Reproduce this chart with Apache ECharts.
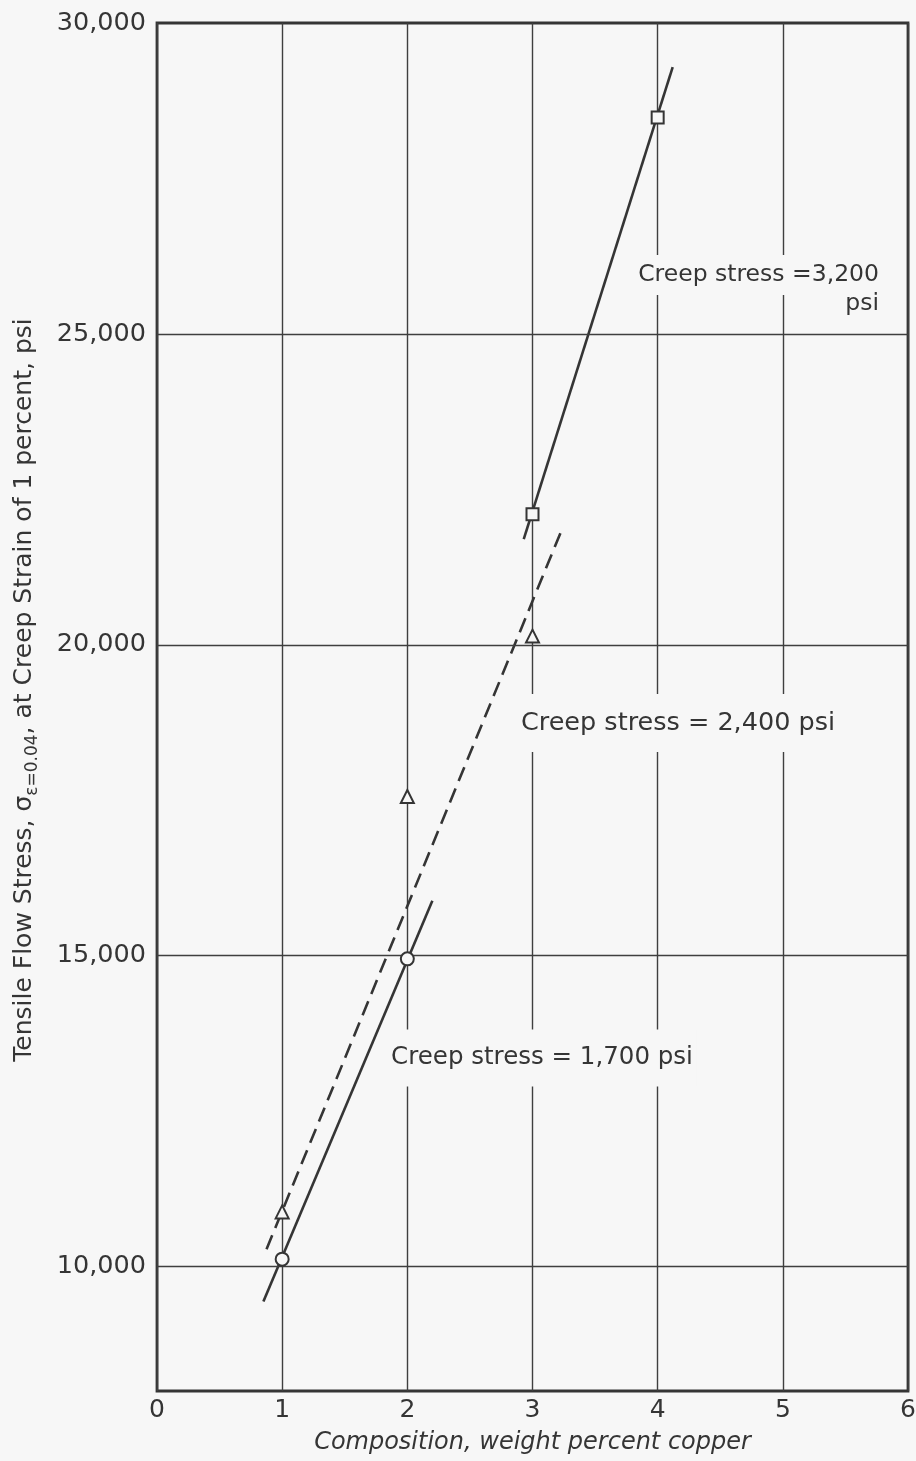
<!DOCTYPE html>
<html>
<head>
<meta charset="utf-8">
<script src="https://cdn.jsdelivr.net/npm/echarts@6/dist/echarts.min.js"></script>
<style>
  html, body { margin: 0; padding: 0; background: #f7f7f7; }
  #chart { width: 916px; height: 1461px; }
</style>
</head>
<body>
<div id="chart"></div>
<script>
// Tensile flow stress at 1 percent creep strain vs copper content
const copperTicks = [0, 1, 2, 3, 4, 5, 6];
const stressGrid = [10000, 15000, 20000, 25000];

// measured points: [wt % Cu, stress psi]
const pts1700 = [[1, 10120], [2, 14950]];
const pts2400 = [[1, 10880], [2, 17560], [3, 20140]];
const pts3200 = [[3, 22100], [4, 28480]];

// faired lines through each creep-stress set
const fit1700 = [[0.85, 9440], [2.20, 15885]];
const fit2400 = [[0.875, 10280], [3.24, 21880]];
const fit3200 = [[2.93, 21700], [4.12, 29290]];

const BG = '#f7f7f7';
const INK = '#353535';
const FONT = '"DejaVu Sans", sans-serif';

const chart = echarts.init(document.getElementById('chart'), null, { renderer: 'canvas' });

function fitLine(data, dashed) {
  return {
    type: 'line', data: data, symbol: 'none', silent: true, z: 3,
    lineStyle: { color: INK, width: 2.6, type: dashed ? [15, 8] : 'solid' }
  };
}
function markers(data, symbol, size) {
  return {
    type: 'scatter', data: data, symbol: symbol, symbolSize: size, z: 5, silent: true,
    itemStyle: { color: BG, borderColor: INK, borderWidth: 2, opacity: 1 }
  };
}
function note(text, x, y, size, align, pad) {
  return {
    type: 'text', z: 50, x: x, y: y,
    style: { text: text, font: size + 'px ' + FONT, fill: INK, align: align,
      verticalAlign: 'middle', backgroundColor: BG, padding: pad }
  };
}

chart.setOption({
  backgroundColor: BG,
  animation: false,
  grid: {
    left: 157, right: 8, top: 23, bottom: 70,
    containLabel: false, outerBoundsMode: 'none',
    show: true, borderColor: INK, borderWidth: 2.8, backgroundColor: 'transparent'
  },
  xAxis: {
    type: 'value', min: 0, max: 6, interval: 1,
    name: 'Composition, weight percent copper',
    nameLocation: 'middle', nameGap: 40,
    nameTextStyle: { fontFamily: FONT, fontSize: 24, fontStyle: 'italic', color: INK },
    axisLine: { show: false },
    axisTick: { show: false },
    axisLabel: { margin: 7, fontFamily: FONT, fontSize: 25, color: INK,
      formatter: v => copperTicks.includes(v) ? String(v) : '' },
    splitLine: { show: true, lineStyle: { color: '#3f3f3f', width: 1.4 } }
  },
  yAxis: {
    type: 'value', min: 8000, max: 30000, interval: 1000,
    axisLine: { show: false },
    axisTick: { show: false },
    splitLine: { show: false },
    axisLabel: { margin: 11, fontFamily: FONT, fontSize: 25.5, color: INK,
      formatter: v => (v >= 10000 && v % 5000 === 0) ? v.toLocaleString('en-US') : '' }
  },
  series: [
    {
      type: 'line', data: [], silent: true,
      markLine: {
        silent: true, symbol: 'none', label: { show: false },
        lineStyle: { color: '#3f3f3f', width: 1.4, type: 'solid' },
        data: stressGrid.map(v => ({ yAxis: v }))
      }
    },
    fitLine(fit1700, false),
    fitLine(fit2400, true),
    fitLine(fit3200, false),
    markers(pts1700, 'circle', 13),
    markers(pts2400, 'triangle', 13),
    markers(pts3200, 'rect', 12)
  ],
  graphic: [
    // vertical axis title with subscripted strain
    {
      type: 'text', z: 50, x: 24, y: 690, rotation: Math.PI / 2,
      style: {
        text: '{n|Tensile Flow Stress, σ}{s|ε=0.04}{n|, at Creep Strain of 1 percent, psi}',
        align: 'center', verticalAlign: 'middle',
        rich: {
          n: { font: '25px ' + FONT, fill: INK, lineHeight: 34, verticalAlign: 'middle' },
          s: { font: '17px ' + FONT, fill: INK, lineHeight: 34, verticalAlign: 'bottom', padding: [14, 0, 0, 0] }
        }
      }
    },
    note('Creep stress =3,200', 883, 275, 23.5, 'right', [8, 4]),
    note('psi', 883, 304, 23.5, 'right', [4, 4]),
    note('Creep stress = 2,400 psi', 678, 723, 25.5, 'center', [16, 4]),
    note('Creep stress = 1,700 psi', 542, 1058, 24.5, 'center', [16, 4])
  ]
});
</script>
</body>
</html>
